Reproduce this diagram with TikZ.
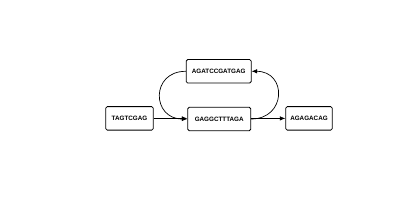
\documentclass[tikz,border=0pt]{standalone}
\usepackage{fontspec}
\setmainfont{Liberation Sans}
\usetikzlibrary{arrows.meta}
\begin{document}
\begin{tikzpicture}[x=1pt,y=-1pt,
  seqbox/.style={draw,line width=0.8pt,rounded corners=1.5pt,minimum height=23.5pt,inner sep=0pt,font=\bfseries\fontsize{6.3}{8}\selectfont},
  conn/.style={line width=0.7pt,-{Latex[length=5.5pt,width=4.5pt]}}]
\useasboundingbox (0,0) rectangle (400,200);
\node[seqbox,minimum width=65pt] (top) at (218.7,71.3) {AGATCCGATGAG};
\node[seqbox,minimum width=47.5pt] (left) at (129.5,118.4) {TAGTCGAG};
\node[seqbox,minimum width=63pt] (mid) at (219.2,119) {GAGGCTTTAGA};
\node[seqbox,minimum width=46.5pt] (right) at (309,118.4) {AGAGACAG};
\draw[conn] (left.east) -- (mid.west |- left.east);
\draw[conn] (mid.east |- right.west) -- (right.west);
\draw[conn] (top.west) to[out=180,in=180,looseness=1.9] (mid.west);
\draw[conn] (mid.east) to[out=0,in=0,looseness=1.9] (top.east);
\end{tikzpicture}
\end{document}
